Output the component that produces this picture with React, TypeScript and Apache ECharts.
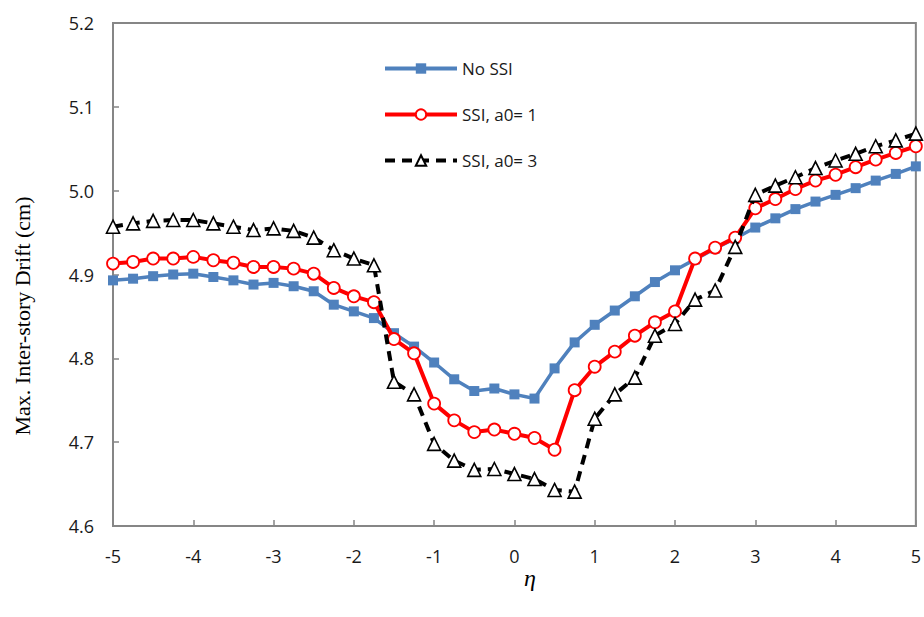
import React, { useEffect, useRef } from "react";
import * as echarts from "echarts";

const etaValues: number[] = [
  -5, -4.75, -4.5, -4.25, -4, -3.75, -3.5, -3.25, -3, -2.75, -2.5, -2.25, -2, -1.75,
  -1.5, -1.25, -1, -0.75, -0.5, -0.25, 0, 0.25, 0.5, 0.75, 1, 1.25, 1.5, 1.75, 2,
  2.25, 2.5, 2.75, 3, 3.25, 3.5, 3.75, 4, 4.25, 4.5, 4.75, 5,
];

const noSSI: number[] = [
  4.893, 4.895, 4.898, 4.9, 4.901, 4.897, 4.893, 4.888, 4.89, 4.886, 4.88, 4.864, 4.856, 4.848,
  4.83, 4.814, 4.795, 4.775, 4.761, 4.764, 4.757, 4.752, 4.788, 4.819, 4.84, 4.857, 4.874, 4.891, 4.905,
  4.918, 4.931, 4.943, 4.956, 4.967, 4.978, 4.987, 4.995, 5.003, 5.012, 5.02, 5.029,
];

const ssiA1: number[] = [
  4.913, 4.915, 4.919, 4.919, 4.921, 4.917, 4.914, 4.909, 4.909, 4.907, 4.901, 4.884, 4.874, 4.867,
  4.823, 4.806, 4.746, 4.726, 4.712, 4.715, 4.71, 4.705, 4.691, 4.762, 4.79, 4.808, 4.827, 4.843, 4.856,
  4.919, 4.932, 4.944, 4.979, 4.99, 5.002, 5.012, 5.019, 5.028, 5.037, 5.045, 5.053,
];

const ssiA3: number[] = [
  4.957, 4.961, 4.964, 4.965, 4.965, 4.961, 4.957, 4.953, 4.955, 4.952, 4.944, 4.929, 4.919, 4.911,
  4.772, 4.757, 4.698, 4.678, 4.667, 4.668, 4.662, 4.656, 4.643, 4.641, 4.728, 4.757, 4.777, 4.827, 4.841,
  4.87, 4.881, 4.933, 4.995, 5.006, 5.016, 5.027, 5.036, 5.044, 5.053, 5.06, 5.068,
];

const seriesNames: string[] = ["No SSI", "SSI, a0= 1", "SSI, a0= 3"];
const yTitle = "Max. Inter-story Drift (cm)";
const xTitle = "η";

const pairs = (ys: number[]) => etaValues.map((x, i) => [x, ys[i]]);

export default function App() {
  const ref = useRef<HTMLDivElement>(null);
  useEffect(() => {
    if (!ref.current) return;
    const chart = echarts.init(ref.current, undefined, { renderer: "svg" });
    const axisColor = "#868686";
    const labelFont = "Open Sans";
    chart.setOption({
      animation: false,
      backgroundColor: "#ffffff",
      grid: {
        left: 113,
        right: 7,
        top: 23,
        bottom: 91,
        containLabel: false,
        show: true,
        borderColor: axisColor,
        borderWidth: 2,
      },
      xAxis: {
        type: "value",
        min: -5,
        max: 5,
        interval: 1,
        axisLine: { show: true, onZero: false, lineStyle: { color: axisColor, width: 2 } },
        axisTick: { show: true, inside: true, length: 6, lineStyle: { color: axisColor, width: 1.5 } },
        splitLine: { show: false },
        axisLabel: {
          margin: 21,
          color: "#1a1a1a",
          fontFamily: labelFont,
          fontSize: 18,
        },
      },
      yAxis: {
        type: "value",
        min: 4.6,
        max: 5.2,
        interval: 0.1,
        axisLine: { show: true, onZero: false, lineStyle: { color: axisColor, width: 2 } },
        axisTick: { show: true, inside: true, length: 6, lineStyle: { color: axisColor, width: 1.5 } },
        splitLine: { show: false },
        axisLabel: {
          margin: 19,
          color: "#1a1a1a",
          fontFamily: labelFont,
          fontSize: 18,
          formatter: (v: number) => v.toFixed(1),
        },
      },
      legend: {
        orient: "vertical",
        left: 378,
        top: 55,
        itemWidth: 72,
        itemHeight: 13,
        itemGap: 29,
        lineStyle: { width: 4 },
        textStyle: { fontFamily: labelFont, fontSize: 17, color: "#1a1a1a" },
        data: seriesNames,
      },
      graphic: [
        {
          type: "text",
          x: 22,
          y: 316,
          rotation: Math.PI / 2,
          style: {
            text: yTitle,
            font: "22px 'Liberation Serif'",
            fill: "#000",
            align: "center",
            verticalAlign: "middle",
          },
        },
        {
          type: "text",
          x: 530,
          y: 578,
          style: {
            text: xTitle,
            font: "italic 24px 'Liberation Serif'",
            fill: "#000",
            align: "center",
            verticalAlign: "middle",
          },
        },
      ],
      series: [
        {
          name: seriesNames[0],
          type: "line",
          data: pairs(noSSI),
          symbol: "rect",
          symbolSize: 10,
          lineStyle: { color: "#4F81BD", width: 3.5 },
          itemStyle: { color: "#4F81BD", borderColor: "#4F81BD", borderWidth: 0 },
          z: 2,
        },
        {
          name: seriesNames[1],
          type: "line",
          data: pairs(ssiA1),
          symbol: "circle",
          symbolSize: 12,
          lineStyle: { color: "#FF0000", width: 4 },
          itemStyle: { color: "#ffffff", borderColor: "#FF0000", borderWidth: 1.8 },
          z: 3,
        },
        {
          name: seriesNames[2],
          type: "line",
          data: pairs(ssiA3),
          symbol: "triangle",
          symbolSize: 13,
          lineStyle: { color: "#000000", width: 4, type: [10, 7] },
          itemStyle: { color: "#ffffff", borderColor: "#000000", borderWidth: 1.6 },
          z: 4,
        },
      ],
    });
    return () => chart.dispose();
  }, []);
  return (
    <div
      ref={ref}
      style={{ position: "fixed", left: 0, top: 0, width: 924, height: 617, background: "#fff" }}
    />
  );
}
